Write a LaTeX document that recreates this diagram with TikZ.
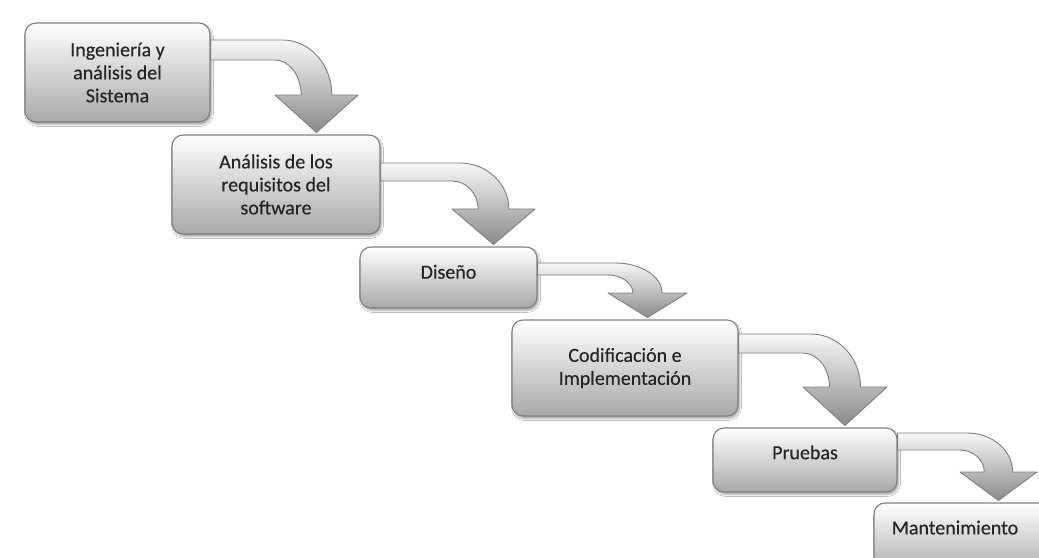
\documentclass[tikz,border=0pt]{standalone}
\usepackage{fontspec}
\setmainfont{Carlito}
\newfontfamily\stagefont{Carlito}[FakeBold=0.4]
\usetikzlibrary{shadows.blur}

\definecolor{edgegray}{HTML}{7F7F7F}
\definecolor{inkgray}{HTML}{262626}

\tikzset{
  stage/.style={
    rounded corners=11pt, draw=edgegray, line width=1.1pt,
    top color=white, bottom color=black!34,
    align=center, text=inkgray, inner sep=0pt,
    font=\stagefont\fontsize{20}{23}\selectfont,
    blur shadow={shadow xshift=1.5pt, shadow yshift=-2.5pt,
                 shadow blur steps=6, shadow opacity=35}},
  bend arrow/.style={
    draw=edgegray, line width=0.9pt, line join=round,
    top color=black!3, bottom color=black!46}
}

% Curved block arrow leaving the right side of one stage and pointing
% down onto the next one.
% #1 from node, #2 to node, #3 upper edge y, #4 lower edge y,
% #5 head base y, #6 head left x, #7 head right x
\newcommand\stagearrow[7]{%
  \pgfmathsetmacro\cx{(#6+#7)/2}%
  \pgfmathsetmacro\bw{0.37*(#7-#6)/2}%
  % outer edge: straight run, then a quarter bend down to the head
  \pgfmathsetmacro\outA{\cx-2.2*\bw}%
  \pgfmathsetmacro\outR{\cx+\bw}%
  \pgfmathsetmacro\outB{\outA+0.55*(\outR-\outA)}%
  \pgfmathsetmacro\outY{#5-0.55*(#5-#3)}%
  % inner edge: tighter bend
  \pgfmathsetmacro\inA{\cx-2.7*\bw}%
  \pgfmathsetmacro\inL{\cx-\bw}%
  \pgfmathsetmacro\inB{\inA+0.55*(\inL-\inA)}%
  \pgfmathsetmacro\inY{#5-0.55*(#5-#4)}%
  \coordinate (tip) at ([yshift=2pt]#2.north);
  \path[bend arrow]
    (#1.east |- 0,#3) -- (\outA,#3)
    .. controls (\outB,#3) and (\outR,\outY) .. (\outR,#5)
    -- (#7,#5) -- (\cx,0 |- tip) -- (#6,#5) -- (\inL,#5)
    .. controls (\inL,\inY) and (\inB,#4) .. (\inA,#4)
    -- (#1.east |- 0,#4) -- cycle;
}

\begin{document}
\begin{tikzpicture}[x=1pt, y=-1pt]
  \useasboundingbox (0,0) rectangle (1039,557);
  \fill[white] (0,0) rectangle (1039,557);
  \clip (0,0) rectangle (1039,557);

  % stages of the waterfall
  \node[stage, minimum width=185pt, minimum height=99pt] (b1) at (117.5,72.5)
    {Ingeniería y\\análisis del\\Sistema};
  \node[stage, minimum width=208pt, minimum height=99pt] (b2) at (276,184.5)
    {Análisis de los\\requisitos del\\software};
  \node[stage, minimum width=177pt, minimum height=61pt, text depth=11.5pt] (b3) at (448.5,277.5)
    {Diseño};
  \node[stage, minimum width=226pt, minimum height=96pt] (b4) at (625,368)
    {Codificación e\\Implementación};
  \node[stage, minimum width=184pt, minimum height=64pt, text depth=15.5pt] (b5) at (805,460)
    {Pruebas};
  \node[stage, minimum width=180pt, minimum height=72pt, text depth=23pt] (b6) at (964,539)
    {Mantenimiento\hspace*{18pt}};

  % transitions between stages
  \stagearrow{b1}{b2}{40}{60}{95}{275}{358}
  \stagearrow{b2}{b3}{163}{181}{209}{452}{535}
  \stagearrow{b3}{b4}{263}{275}{293}{608}{687}
  \stagearrow{b4}{b5}{334}{353}{387}{803}{887}
  \stagearrow{b5}{b6}{433}{450}{472}{960}{1037}
\end{tikzpicture}
\end{document}
